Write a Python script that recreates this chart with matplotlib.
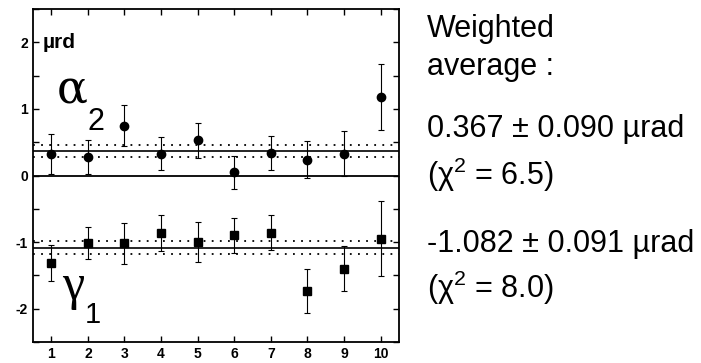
import matplotlib
matplotlib.use('Agg')
import matplotlib.pyplot as plt
from matplotlib.ticker import MultipleLocator

plt.rcParams['font.family'] = ['Liberation Sans', 'DejaVu Sans']
plt.rcParams['mathtext.default'] = 'regular'
plt.rcParams['axes.unicode_minus'] = False

runs = [1, 2, 3, 4, 5, 6, 7, 8, 9, 10]
alpha2 = [0.33, 0.28, 0.75, 0.33, 0.53, 0.05, 0.34, 0.24, 0.33, 1.18]
alpha2_err = [0.30, 0.26, 0.31, 0.25, 0.26, 0.25, 0.26, 0.28, 0.34, 0.50]
gamma1 = [-1.31, -1.02, -1.02, -0.86, -1.00, -0.90, -0.86, -1.74, -1.40, -0.95]
gamma1_err = [0.27, 0.24, 0.31, 0.27, 0.30, 0.26, 0.26, 0.33, 0.34, 0.56]
alpha2_avg, alpha2_avg_err = 0.367, 0.090
gamma1_avg, gamma1_avg_err = -1.082, 0.091

fig = plt.figure(figsize=(7.01, 3.63), dpi=100)
ax = fig.add_axes([0.047, 0.058, 0.522, 0.917])

ax.errorbar(runs, alpha2, yerr=alpha2_err, fmt='o', color='black', ms=6,
            elinewidth=0.8, capsize=2.5, capthick=0.8)
ax.errorbar(runs, gamma1, yerr=gamma1_err, fmt='s', color='black', ms=5.3,
            elinewidth=0.8, capsize=2.5, capthick=0.8)

ax.axhline(0, color='black', lw=1.3)
for avg, err in [(alpha2_avg, alpha2_avg_err), (gamma1_avg, gamma1_avg_err)]:
    ax.axhline(avg, color='black', lw=1.2)
    ax.axhline(avg + err, color='black', lw=1.3, ls=(0, (1, 3.5)))
    ax.axhline(avg - err, color='black', lw=1.3, ls=(0, (1, 3.5)))

ax.set_xlim(0.5, 10.5)
ax.set_ylim(-2.5, 2.5)
ax.set_xticks(runs)
ax.set_yticks([-2, -1, 0, 1, 2])
ax.yaxis.set_minor_locator(MultipleLocator(0.5))
ax.tick_params(axis='both', which='both', direction='in', top=True, right=True,
               width=1.0, labelsize=10)
ax.tick_params(which='major', length=4)
ax.tick_params(which='minor', length=4)
ax.tick_params(axis='x', which='minor', bottom=False, top=False)
for lab in ax.get_xticklabels() + ax.get_yticklabels():
    lab.set_fontweight('bold')
for sp in ax.spines.values():
    sp.set_linewidth(1.3)

ax.text(0.76, 2.0, 'µrd', fontsize=15, fontweight='bold', va='center', ha='left')
ax.text(1.14, 1.10, 'α', fontsize=33, family=['DejaVu Serif'], va='baseline', ha='left')
ax.text(1.98, 0.68, '2', fontsize=22, va='baseline', ha='left')
ax.text(1.30, -1.85, 'γ', fontsize=36, family=['Liberation Serif'], va='baseline', ha='left')
ax.text(1.92, -2.21, '1', fontsize=21, va='baseline', ha='left')

fs = 22
x0 = 0.609
fig.text(x0, 0.898, 'Weighted', fontsize=fs, va='baseline', ha='left')
fig.text(x0, 0.793, 'average :', fontsize=fs, va='baseline', ha='left')
fig.text(x0, 0.623, '0.367 ± 0.090 µrad', fontsize=fs, va='baseline', ha='left')
fig.text(x0, 0.490, '(χ$^{2}$ = 6.5)', fontsize=fs, va='baseline', ha='left')
fig.text(x0, 0.305, '-1.082 ± 0.091 µrad', fontsize=fs, va='baseline', ha='left')
fig.text(x0, 0.180, '(χ$^{2}$ = 8.0)', fontsize=fs, va='baseline', ha='left')

fig.savefig('out.png', dpi=100)
